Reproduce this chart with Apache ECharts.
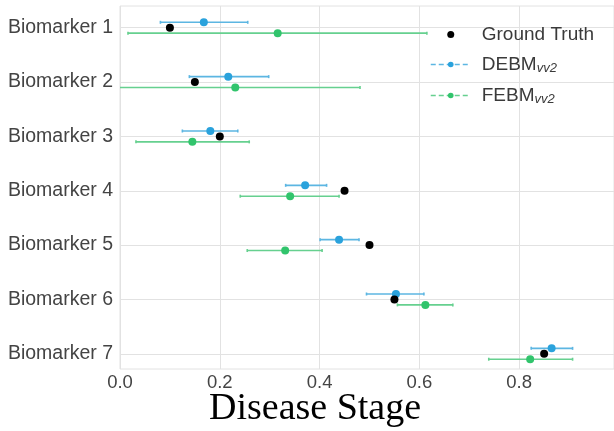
<!DOCTYPE html>
<html>
<head>
<meta charset="utf-8">
<script src="https://cdn.jsdelivr.net/npm/echarts@6/dist/echarts.min.js"></script>
<style>html,body{margin:0;padding:0;background:#fff}#c{width:614px;height:431px}</style>
</head>
<body>
<div id="c"></div>
<script>
const categories = ['Biomarker 1','Biomarker 2','Biomarker 3','Biomarker 4','Biomarker 5','Biomarker 6','Biomarker 7'];
const groundTruth = [0.10, 0.15, 0.20, 0.45, 0.50, 0.55, 0.85];
const debmMean = [0.168, 0.217, 0.181, 0.371, 0.439, 0.553, 0.865];
const debmLow  = [0.081, 0.139, 0.125, 0.332, 0.401, 0.494, 0.824];
const debmHigh = [0.256, 0.298, 0.236, 0.414, 0.479, 0.609, 0.907];
const febmMean = [0.316, 0.231, 0.145, 0.341, 0.331, 0.612, 0.822];
const febmLow  = [0.016, -0.02, 0.032, 0.241, 0.255, 0.556, 0.739];
const febmHigh = [0.615, 0.481, 0.259, 0.439, 0.405, 0.667, 0.907];
const xTicks = [0, 0.2, 0.4, 0.6, 0.8];

const BLUE_DOT = '#2aa2dc', BLUE_LINE = '#5cb6e2';
const GREEN_DOT = '#31c46c', GREEN_LINE = '#66d08f';
const OFF = 0.1;
const idx = categories.map((_, i) => i);

function errData(lo, hi, off) {
  return idx.map(i => [lo[i], hi[i], i + off]);
}
function errRender(color) {
  return function (params, api) {
    const p1 = api.coord([api.value(0), api.value(2)]);
    const p2 = api.coord([api.value(1), api.value(2)]);
    const cap = 1.5;
    const style = { stroke: color, lineWidth: 1.6 };
    return {
      type: 'group',
      children: [
        { type: 'line', shape: { x1: p1[0], y1: p1[1], x2: p2[0], y2: p2[1] }, style },
        { type: 'line', shape: { x1: p1[0], y1: p1[1] - cap, x2: p1[0], y2: p1[1] + cap }, style },
        { type: 'line', shape: { x1: p2[0], y1: p2[1] - cap, x2: p2[0], y2: p2[1] + cap }, style }
      ]
    };
  };
}

const chart = echarts.init(document.getElementById('c'), null, { renderer: 'canvas' });
chart.setOption({
  animation: false,
  backgroundColor: '#fff',
  title: {
    text: 'Disease Stage',
    left: 204, top: 385,
    textStyle: { fontFamily: 'Liberation Serif', fontSize: 38, fontWeight: 'normal', color: '#000' }
  },
  grid: { left: 120, right: 0, top: 6, bottom: 62, show: true, borderColor: '#e2e2e2', borderWidth: 1 },
  legend: {
    orient: 'vertical', left: 425, top: 20,
    itemWidth: 40, itemHeight: 7, itemGap: 11,
    textStyle: {
      fontFamily: 'Liberation Sans', fontSize: 19, color: '#3a3a3a', padding: [0,0,0,6],
      rich: { sub: { fontFamily: 'Liberation Sans', fontSize: 13, fontStyle: 'italic', color: '#3a3a3a', verticalAlign: 'bottom', padding: [8,0,0,0] } }
    },
    formatter: function (name) {
      if (name === 'DEBM_vv2') return 'DEBM{sub|vv2}';
      if (name === 'FEBM_vv2') return 'FEBM{sub|vv2}';
      return name;
    },
    data: [
      { name: 'Ground Truth', icon: 'circle', itemStyle: { color: '#000', opacity: 1 } },
      { name: 'DEBM_vv2', lineStyle: { type: [5, 3], opacity: 1, width: 1.5, color: BLUE_LINE } },
      { name: 'FEBM_vv2', lineStyle: { type: [5, 3], opacity: 1, width: 1.5, color: GREEN_LINE } }
    ]
  },
  xAxis: {
    type: 'value', min: 0, max: 0.99, interval: 0.2,
    axisLine: { show: false }, axisTick: { show: false },
    splitLine: { show: true, lineStyle: { color: '#e2e2e2', width: 1 } },
    axisLabel: {
      customValues: xTicks,
      fontFamily: 'Liberation Sans', fontSize: 18.5, color: '#444', margin: 4,
      formatter: v => v.toFixed(1)
    }
  },
  yAxis: {
    type: 'value', inverse: true, min: -0.4, max: 6.28,
    axisLine: { show: false },
    axisTick: { show: false, customValues: idx },
    splitLine: { show: true, lineStyle: { color: '#e2e2e2', width: 1 } },
    axisLabel: {
      customValues: idx,
      fontFamily: 'Liberation Sans', fontSize: 19.5, color: '#444', margin: 7,
      formatter: v => categories[Math.round(v)]
    }
  },
  series: [
    {
      name: 'Ground Truth', type: 'scatter', symbol: 'circle', symbolSize: 8,
      itemStyle: { color: '#000', opacity: 1 },
      data: idx.map(i => [groundTruth[i], i]), z: 4
    },
    {
      name: 'DEBM_vv2', type: 'line', symbol: 'circle', symbolSize: 8,
      itemStyle: { color: BLUE_DOT, opacity: 1 }, lineStyle: { opacity: 0 },
      data: idx.map(i => [debmMean[i], i - OFF]), z: 3
    },
    {
      name: 'FEBM_vv2', type: 'line', symbol: 'circle', symbolSize: 8,
      itemStyle: { color: GREEN_DOT, opacity: 1 }, lineStyle: { opacity: 0 },
      data: idx.map(i => [febmMean[i], i + OFF]), z: 3
    },
    {
      name: 'DEBM_vv2', type: 'custom', renderItem: errRender(BLUE_LINE), clip: true,
      data: errData(debmLow, debmHigh, -OFF), encode: { x: [0, 1], y: 2 }, z: 2
    },
    {
      name: 'FEBM_vv2', type: 'custom', renderItem: errRender(GREEN_LINE), clip: true,
      data: errData(febmLow, febmHigh, OFF), encode: { x: [0, 1], y: 2 }, z: 2
    }
  ]
});
</script>
</body>
</html>
